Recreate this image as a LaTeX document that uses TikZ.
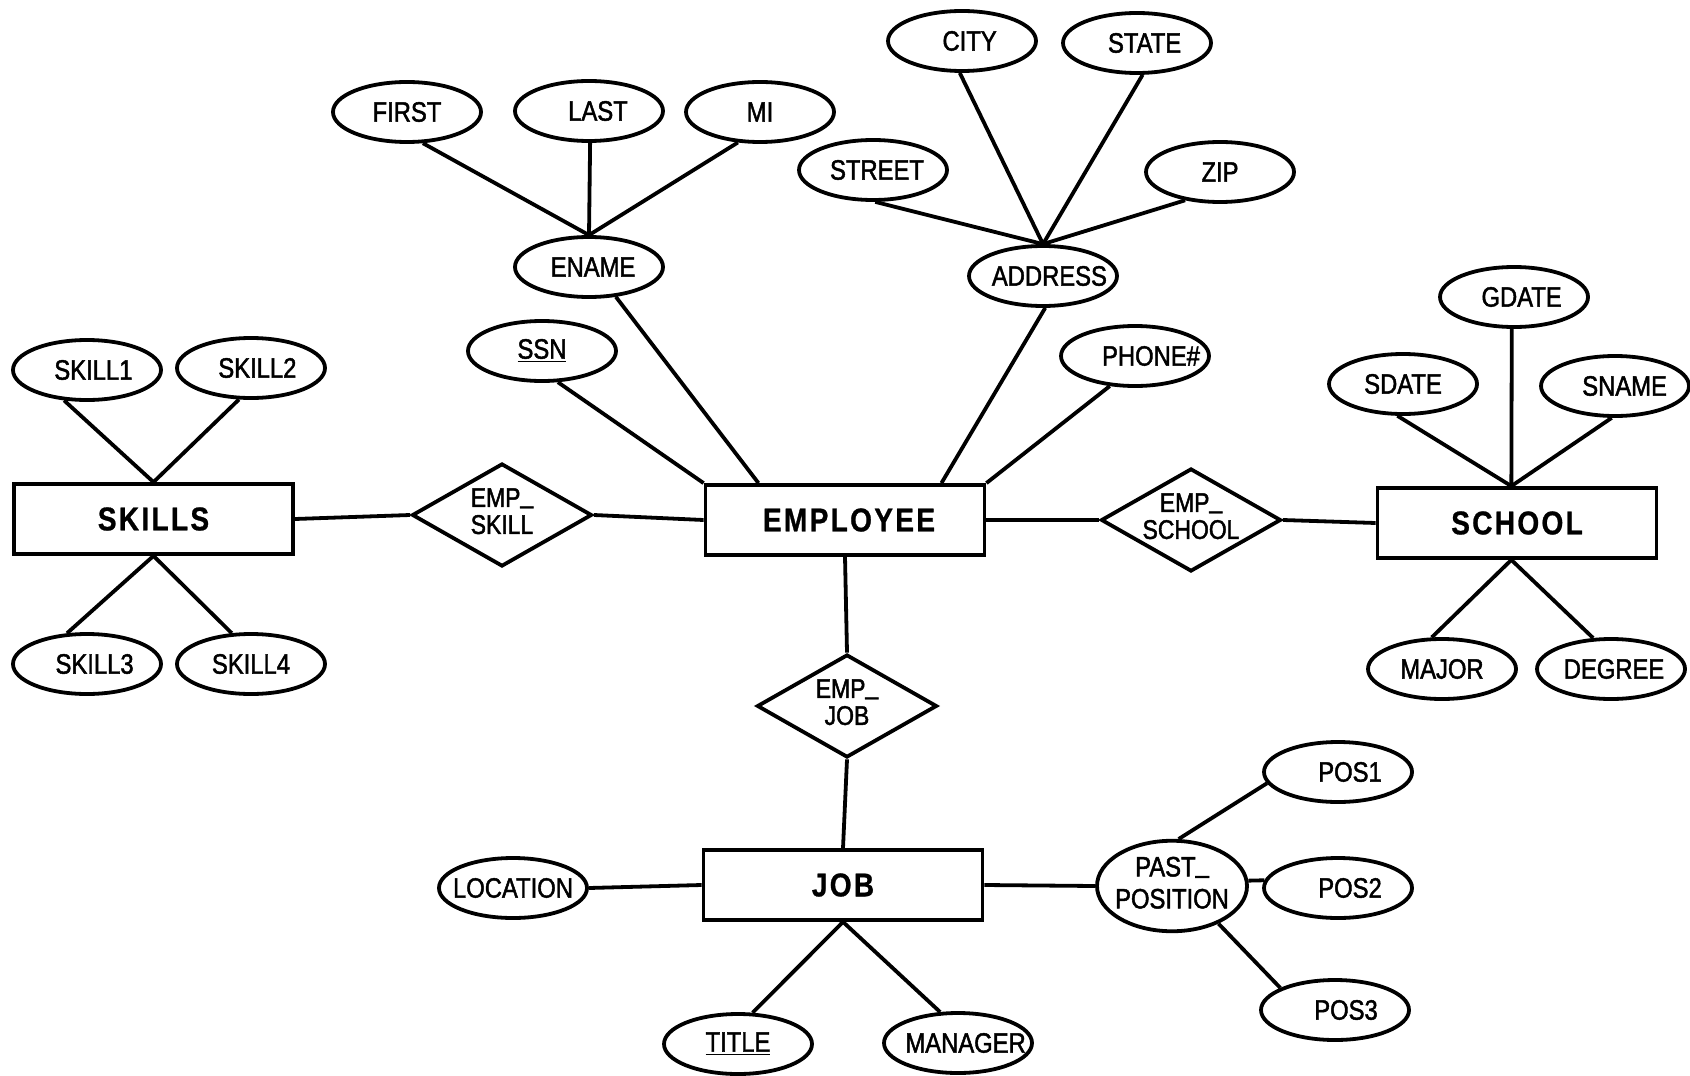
\documentclass[tikz,border=0pt]{standalone}
\usepackage{fontspec}
\setmainfont{Liberation Sans}
\newfontfamily\attrfont{Liberation Sans}[FakeStretch=0.85,FakeBold=1.6]
\newfontfamily\entfont{Liberation Sans}[FakeStretch=0.85,LetterSpace=7,FakeBold=0.8]
\usetikzlibrary{shapes.geometric,calc}

% text of zero width, optionally shifted right, so that the shape keeps its own size
\newcommand\ctr[2][0pt]{\makebox[0pt]{\hspace*{#1}#2\hspace*{-#1}}}
\newcommand\two[2]{\ctr{\begin{tabular}{@{}c@{}}#1\\#2\end{tabular}}}
% underscore sitting on the baseline
\newcommand\us{\raisebox{2pt}{\_}}

\tikzset{
  conn/.style={line width=1.9pt},
  attr/.style={ellipse, draw, line width=1.9pt, minimum width=74pt, minimum height=30pt,
               inner sep=0pt, font=\attrfont\fontsize{14}{16}\selectfont},
  ent/.style={rectangle, draw, line width=1.9pt, minimum width=139.5pt, minimum height=35pt,
              inner sep=0pt, font=\entfont\bfseries\fontsize{16.5}{18}\selectfont},
  rel/.style={diamond, draw, line width=1.9pt, minimum width=90pt, minimum height=51.5pt,
              inner sep=0pt, font=\attrfont\fontsize{13.5}{13.5}\selectfont},
}

\begin{document}
\begin{tikzpicture}[x=0.5pt,y=-0.5pt]
\fill[white] (0,0) rectangle (1690,1075);
\useasboundingbox (0,0) rectangle (1690,1075);

% entities
\node[ent] (skills) at (153.5,519) {\ctr{SKILLS}};
\node[ent] (emp)    at (845,520)   {\ctr[2pt]{EMPLOYEE}};
\node[ent] (school) at (1517,523)  {\ctr{SCHOOL}};
\node[ent] (job)    at (843,885)   {\ctr{JOB}};

% relationships
\node[rel] (es)  at (502,515)  {\two{EMP\us}{SKILL}};
\node[rel] (esc) at (1191,520) {\two{EMP\us}{SCHOOL}};
\node[rel] (ej)  at (847,706)  {\two{EMP\us}{JOB}};

% attributes of SKILLS
\node[attr] (sk1) at (87,370)  {\ctr[3.2pt]{SKILL1}};
\node[attr] (sk2) at (251,368) {\ctr[3.2pt]{SKILL2}};
\node[attr] (sk3) at (87,664)  {\ctr[3.8pt]{SKILL3}};
\node[attr] (sk4) at (251,664) {\ctr{SKILL4}};

% attributes of EMPLOYEE
\node[attr] (ssn)     at (542,351)  {\ctr{\underline{SSN}}};
\node[attr] (ename)   at (589,267)  {\ctr[2pt]{ENAME}};
\node[attr] (first)   at (407,112)  {\ctr{FIRST}};
\node[attr] (last)    at (589,111)  {\ctr[4.5pt]{LAST}};
\node[attr] (mi)      at (760,112)  {\ctr{MI}};
\node[attr] (address) at (1043,276) {\ctr[3.2pt]{ADDRESS}};
\node[attr] (street)  at (873,170)  {\ctr[2pt]{STREET}};
\node[attr] (city)    at (962,41)   {\ctr[3.8pt]{CITY}};
\node[attr] (state)   at (1137,43)  {\ctr[3.8pt]{STATE}};
\node[attr] (zip)     at (1220,172) {\ctr{ZIP}};
\node[attr] (phone)   at (1135,356) {\ctr[8pt]{PHONE\#}};

% attributes of SCHOOL
\node[attr] (sdate)  at (1403,384) {\ctr{SDATE}};
\node[attr] (gdate)  at (1514,297) {\ctr[3.8pt]{GDATE}};
\node[attr] (sname)  at (1615,386) {\ctr[4.8pt]{SNAME}};
\node[attr] (major)  at (1442,669) {\ctr{MAJOR}};
\node[attr] (degree) at (1611,669) {\ctr[1.5pt]{DEGREE}};

% attributes of JOB
\node[attr] (loc)     at (513,888)  {\ctr{LOCATION}};
\node[attr] (title)   at (738,1044) {\ctr{\underline{TITLE}}};
\node[attr] (manager) at (958,1043) {\ctr[3.8pt]{MANAGER}};
\node[attr, minimum width=75pt, minimum height=39.5pt] (past) at (1172,886) {\two{PAST\us}{POSITION}};
\node[attr] (pos1) at (1338,772)  {\ctr[6pt]{POS1}};
\node[attr] (pos2) at (1338,888)  {\ctr[6pt]{POS2}};
\node[attr] (pos3) at (1335,1010) {\ctr[5.5pt]{POS3}};

% meeting points on entity edges
\coordinate (enameend) at ($(emp.north west)!0.194!(emp.north east)$);
\coordinate (addrend)  at ($(emp.north west)!0.841!(emp.north east)$);
\coordinate (schtop)   at ($(school.north west)!0.48!(school.north east)$);
\coordinate (schbot)   at ($(school.south west)!0.48!(school.south east)$);

% SKILLS
\draw[conn] (sk1.233) -- (skills.north);
\draw[conn] (sk2.249) -- (skills.north);
\draw[conn] (sk3.123) -- (skills.south);
\draw[conn] (sk4.122) -- (skills.south);
\draw[conn] (skills.east) -- (es.west);
\draw[conn] (es.east) -- (emp.west);

% EMPLOYEE
\draw[conn] (ssn.297) -- (emp.north west);
\draw[conn] (ename.312) -- (enameend);
\draw[conn] (address.274) -- (addrend);
\draw[conn] (phone.230) -- (emp.north east);
\draw[conn] (ename.north) -- (first.297);
\draw[conn] (ename.north) -- (last.272);
\draw[conn] (ename.north) -- (mi.234);
\draw[conn] (address.north) -- (street.274);
\draw[conn] (address.north) -- (city.266);
\draw[conn] (address.north) -- (state.280);
\draw[conn] (address.north) -- (zip.219);

% SCHOOL
\draw[conn] (emp.east) -- (esc.west);
\draw[conn] (esc.east) -- (school.west);
\draw[conn] (sdate.260) -- (schtop);
\draw[conn] (gdate.266) -- (schtop);
\draw[conn] (sname.264) -- (schtop);
\draw[conn] (major.108) -- (schbot);
\draw[conn] (degree.120) -- (schbot);

% JOB
\draw[conn] (emp.south) -- (ej.north);
\draw[conn] (ej.south) -- (job.north);
\draw[conn] (job.west) -- (loc.east);
\draw[conn] (job.east) -- (past.west);
\draw[conn] (job.south) -- (title.65);
\draw[conn] (job.south) -- (manager.120);
\draw[conn] (past.82) -- (pos1.189);
\draw[conn] (past.4) -- (pos2.174);
\draw[conn] (past.321) -- (pos3.158);
\end{tikzpicture}
\end{document}
